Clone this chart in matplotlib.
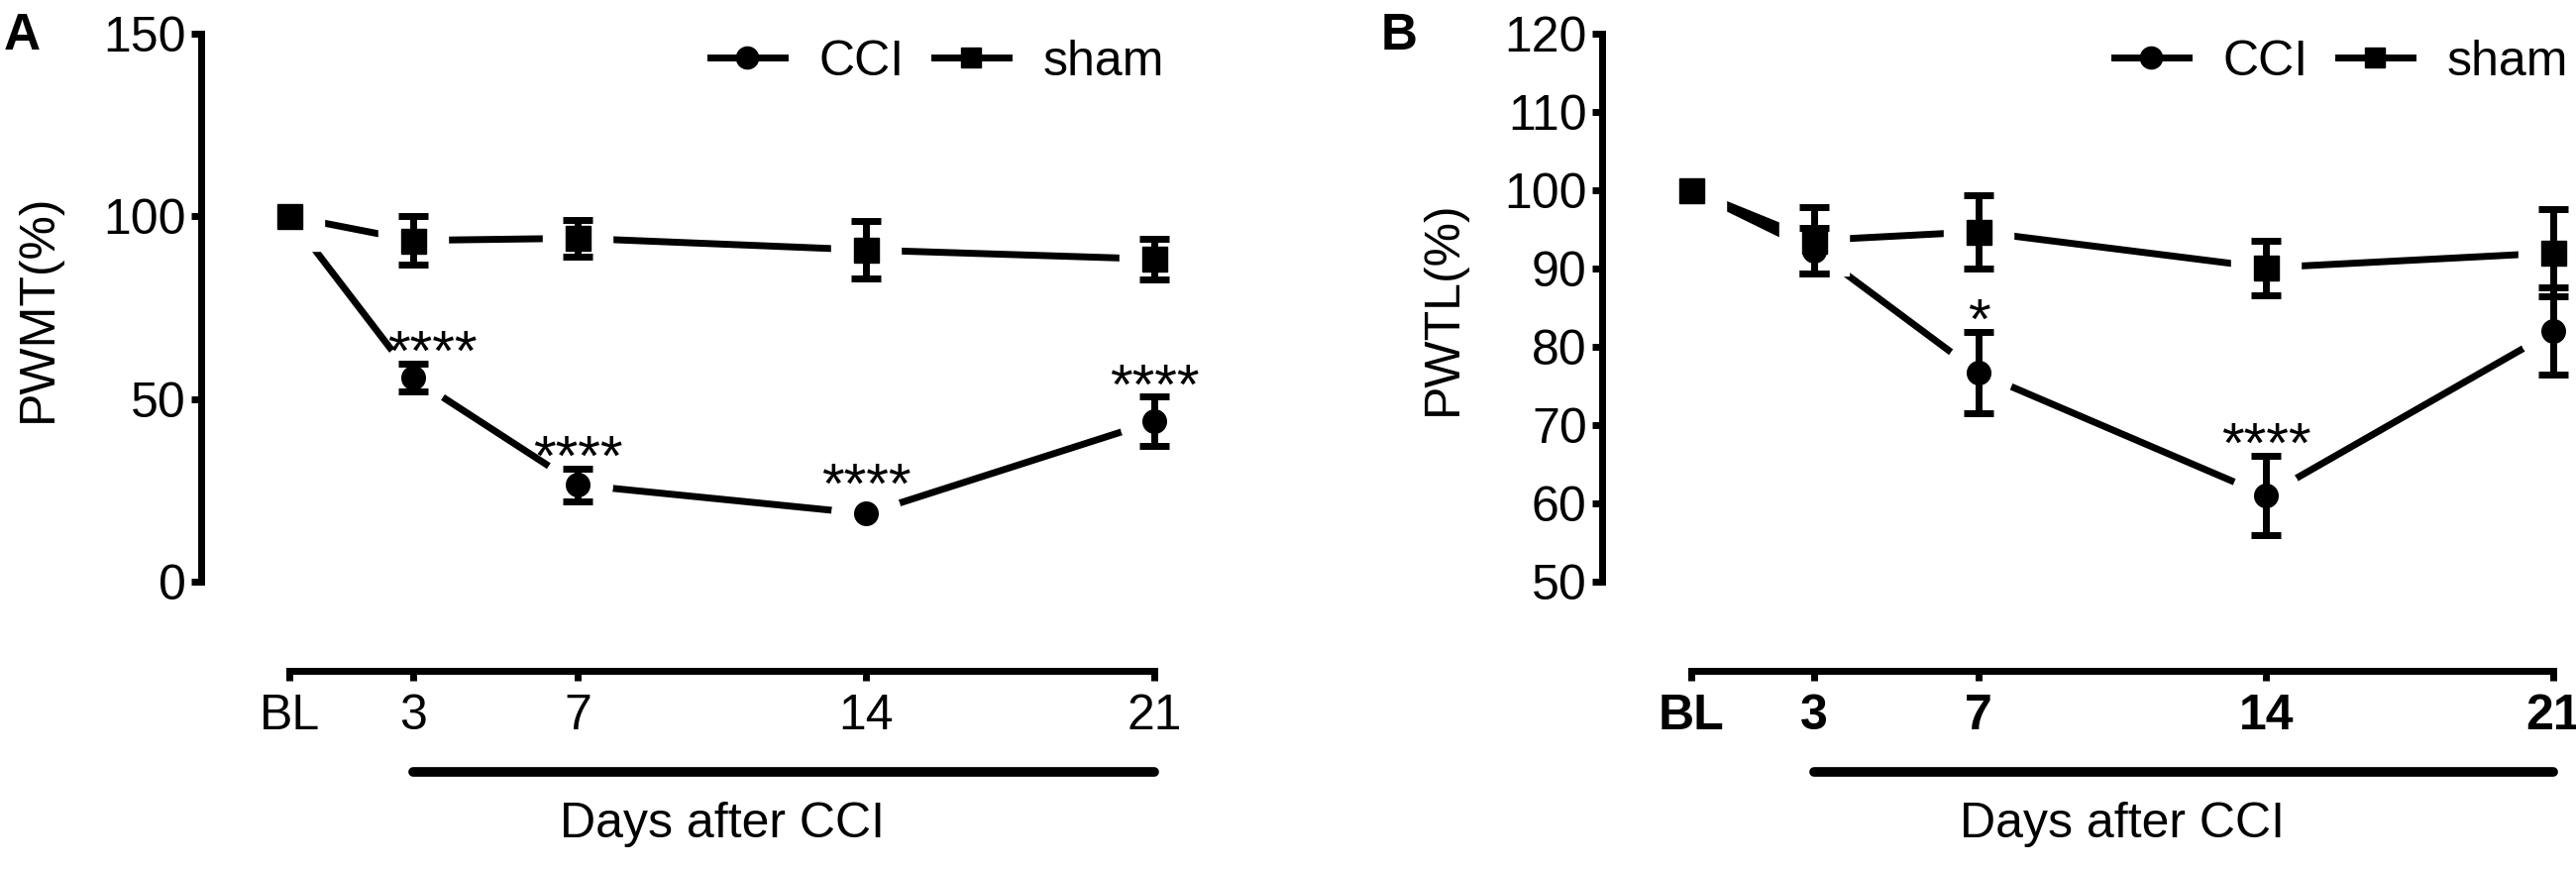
import numpy as np
import matplotlib.pyplot as plt
from matplotlib.lines import Line2D
from matplotlib.transforms import blended_transform_factory

plt.rcParams['font.family'] = ['Liberation Sans', 'DejaVu Sans']

# time points (BL = baseline)
days = [0, 3, 7, 14, 21]
day_labels = ['BL', '3', '7', '14', '21']

# panel A - PWMT (%)
pwmt_cci = [100, 55.8, 26.5, 18.6, 43.9]
pwmt_cci_err = [np.nan, 3.8, 4.4, np.nan, 6.7]
pwmt_sham = [100, 93.4, 94.0, 90.8, 88.3]
pwmt_sham_err = [np.nan, 6.6, 5.0, 7.8, 5.6]
pwmt_stars = ['', '****', '****', '****', '****']

# panel B - PWTL (%)
pwtl_cci = [100, 92.3, 76.7, 61.0, 82.0]
pwtl_cci_err = [np.nan, 2.9, 5.2, 5.1, 5.6]
pwtl_sham = [100, 93.6, 94.7, 90.1, 92.0]
pwtl_sham_err = [np.nan, 4.2, 4.7, 3.5, 5.6]
pwtl_stars = ['', '', '*', '****', '']

W, H = 2600, 880
fig = plt.figure(figsize=(W / 100, H / 100), dpi=100)

LW = 5
FS = 36


def px_axes(left, right, top, bottom):
    return fig.add_axes([left / W, 1 - bottom / H, (right - left) / W, (bottom - top) / H])


def draw_panel(ax, cci, cci_err, sham, sham_err, stars, star_dx, ylim, yticks,
               ylabel, ylabel_x, bold_x, legend_right, letter, letter_x):
    series = [(cci, cci_err, 'o', 17), (sham, sham_err, 's', 18)]
    for y, err, m, ms in series:
        ax.plot(days, y, color='black', lw=LW, solid_capstyle='round', zorder=1, clip_on=False)
    # white halo so connecting lines stop short of the symbols
    for y, err, m, ms in series:
        ax.plot(days, y, ls='none', marker=m, ms=50, color='white', zorder=2, clip_on=False)
    for y, err, m, ms in series:
        eb = ax.errorbar(days, y, yerr=err, fmt=m, ms=ms, color='black', elinewidth=LW,
                         capsize=11, capthick=LW, zorder=3)
        for art in eb.lines[1] + eb.lines[2]:
            art.set_clip_on(False)
        eb.lines[0].set_clip_on(False)

    for d, y, e, s, dx in zip(days, cci, cci_err, stars, star_dx):
        if not s:
            continue
        top = y + (0 if np.isnan(e) else e)
        dy = 8 if np.isnan(e) else -5
        ax.annotate(s, xy=(d, top), xytext=(dx, dy), textcoords='offset points',
                    ha='center', va='baseline', fontsize=42, zorder=4)

    ax.set_ylim(*ylim)
    ax.set_yticks(yticks)
    ax.set_xticks(days)
    ax.set_xticklabels(day_labels)
    for side in ['top', 'right']:
        ax.spines[side].set_visible(False)
    ax.spines['left'].set_bounds(ylim[0], ylim[1])
    ax.spines['bottom'].set_bounds(days[0], days[-1])
    ax.spines['bottom'].set_position(('outward', 65))
    for side in ['left', 'bottom']:
        ax.spines[side].set_linewidth(LW)
        ax.spines[side].set_capstyle('projecting')
    ax.tick_params(axis='both', width=LW, length=7, labelsize=FS)
    ax.tick_params(axis='y', pad=4)
    ax.tick_params(axis='x', pad=9)
    if bold_x:
        plt.setp(ax.get_xticklabels(), fontweight='bold')

    ax.set_ylabel(ylabel, fontsize=FS)
    ax.yaxis.set_label_coords(ylabel_x / W, 0.5,
                              transform=blended_transform_factory(fig.transFigure, ax.transAxes))

    bt = blended_transform_factory(ax.transData, fig.transFigure)
    ax.plot([days[1], days[-1]], [1 - 779 / H] * 2, transform=bt, color='black', lw=7,
            solid_capstyle='round', clip_on=False)
    ax.text((days[0] + days[-1]) / 2, 1 - 832 / H, 'Days after CCI', transform=bt,
            ha='center', va='center', fontsize=FS)

    handles = [Line2D([], [], color='black', lw=LW, marker='o', ms=16),
               Line2D([], [], color='black', lw=LW, marker='s', ms=15)]
    fig.legend(handles, ['CCI', 'sham'], loc='center right',
               bbox_to_anchor=(legend_right / W, 1 - 63 / H), ncol=2, frameon=False,
               fontsize=FS, handlelength=1.5, handletextpad=0.7, columnspacing=0.6,
               borderpad=0, borderaxespad=0)

    fig.text(letter_x / W, 1 - 50 / H, letter, fontsize=37, fontweight='bold', va='baseline')


ax_a = px_axes(203, 1190, 34, 587)
ax_a.set_xlim(-2.14, 21.59)
draw_panel(ax_a, pwmt_cci, pwmt_cci_err, pwmt_sham, pwmt_sham_err, pwmt_stars,
           [0, 14, 0, 0, 0], (0, 150), [0, 50, 100, 150], 'PWMT(%)', 62, False,
           1175, 'A', 4)

ax_b = px_axes(1617, 2598, 34, 587)
ax_b.set_xlim(-2.17, 21.5)
draw_panel(ax_b, pwtl_cci, pwtl_cci_err, pwtl_sham, pwtl_sham_err, pwtl_stars,
           [0, 0, 0, 0, 0], (50, 120), list(range(50, 121, 10)), 'PWTL(%)', 1480, True,
           2592, 'B', 1394)

fig.savefig('out.png', dpi=100)
